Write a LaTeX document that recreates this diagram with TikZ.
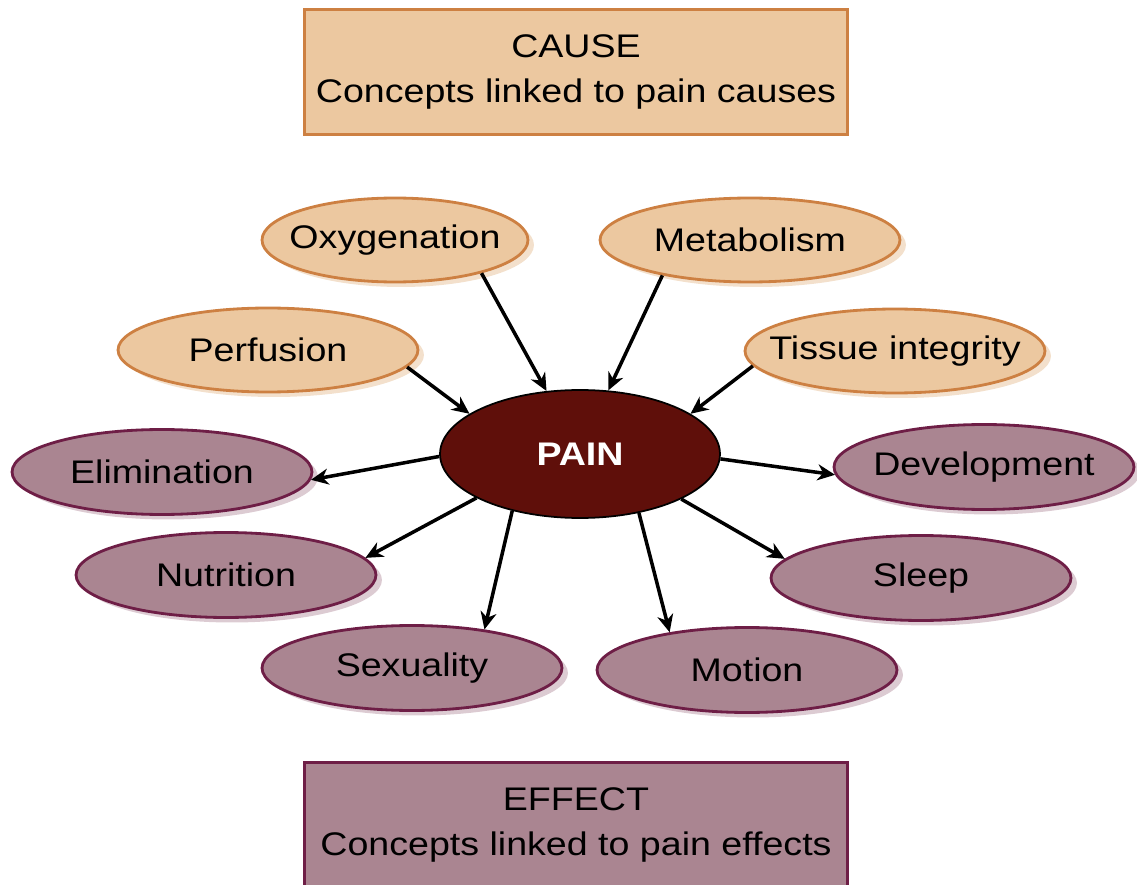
\documentclass[tikz,border=0pt]{standalone}
\usepackage{fontspec}
\setmainfont{Liberation Sans}[FakeStretch=1.15]
\usepackage{tikz}
\usetikzlibrary{positioning,arrows.meta,shapes.geometric,shadows}
\definecolor{arena}{RGB}{236,200,160}
\definecolor{cobre}{RGB}{205,128,66}
\definecolor{arenaclara}{RGB}{243,224,204}
\definecolor{malva}{RGB}{170,133,145}
\definecolor{vino}{RGB}{110,30,70}
\definecolor{malvaclara}{RGB}{220,203,210}
\definecolor{granate}{RGB}{95,15,10}

\begin{document}
\begin{tikzpicture}[x=0.02cm, y=-0.02cm,
  font=\fontsize{18.6}{25.6}\selectfont,
  causa/.style={ellipse, draw=cobre, fill=arena, line width=1.6pt,
    minimum width=6cm, minimum height=1.68cm, inner sep=0pt,
    drop shadow={shadow xshift=0.12cm, shadow yshift=-0.1cm,
      fill=arenaclara, opacity=1}},
  efecto/.style={ellipse, draw=vino, fill=malva, line width=1.6pt,
    minimum width=6cm, minimum height=1.7cm, inner sep=0pt,
    drop shadow={shadow xshift=0.12cm, shadow yshift=-0.1cm,
      fill=malvaclara, opacity=1}},
  dolor/.style={ellipse, draw=black, fill=granate, line width=1pt,
    minimum width=5.6cm, minimum height=2.56cm, text=white,
    font=\fontsize{18.6}{25.6}\selectfont\bfseries},
  caja/.style={line width=1.6pt, minimum width=10.86cm,
    minimum height=2.5cm, align=center},
  enlace/.style={-{Stealth[length=3.5mm, width=3.2mm, inset=1.1mm]},
    line width=2pt},
]
  \useasboundingbox (0,0) rectangle (1137,885);
  % Cajas de titulo
  \node[caja, draw=cobre, fill=arena] (cajacausa) at (576,72)
    {CAUSE\\Concepts linked to pain causes};
  \node[caja, draw=vino, fill=malva] (cajaefecto) at (576,825)
    {EFFECT\\Concepts linked to pain effects};
  % Causas
  \node[causa, minimum width=5.32cm, label=center:Oxygenation] (oxi) at (395,240) {};
  \node[causa, label=center:Metabolism] (meta) at (750,240) {};
  \node[causa, label=center:Perfusion] (perf) at (268,350) {};
  \node[causa, label=center:Tissue integrity] (tejido) at (895,351) {};
  % Centro
  \node[dolor] (dol) at (580,454) {PAIN};
  % Efectos
  \node[efecto, label=center:Elimination] (elim) at (162,472) {};
  \node[efecto, label=center:Development] (desa) at (984,467) {};
  \node[efecto, label=center:Nutrition] (nutri) at (226,575) {};
  \node[efecto, label=center:Sleep] (sueno) at (921,578) {};
  \node[efecto, label=center:Sexuality] (sexo) at (412,668) {};
  \node[efecto, label=center:Motion] (mov) at (747,670) {};
  % Flechas hacia el dolor
  \foreach \a/\b in {perf.-7/dol.160, oxi.-21/dol.118, meta.202/dol.66, tejido.186/dol.20}
    \draw[enlace] (\a) -- (\b);
  % Flechas desde el dolor
  \foreach \a/\b in {dol.181/elim.-3, dol.-2/desa.183, dol.203/nutri.7,
      dol.220/sexo.28, dol.-45/mov.154, dol.-24/sueno.172}
    \draw[enlace] (\a) -- (\b);
\end{tikzpicture}
\end{document}
